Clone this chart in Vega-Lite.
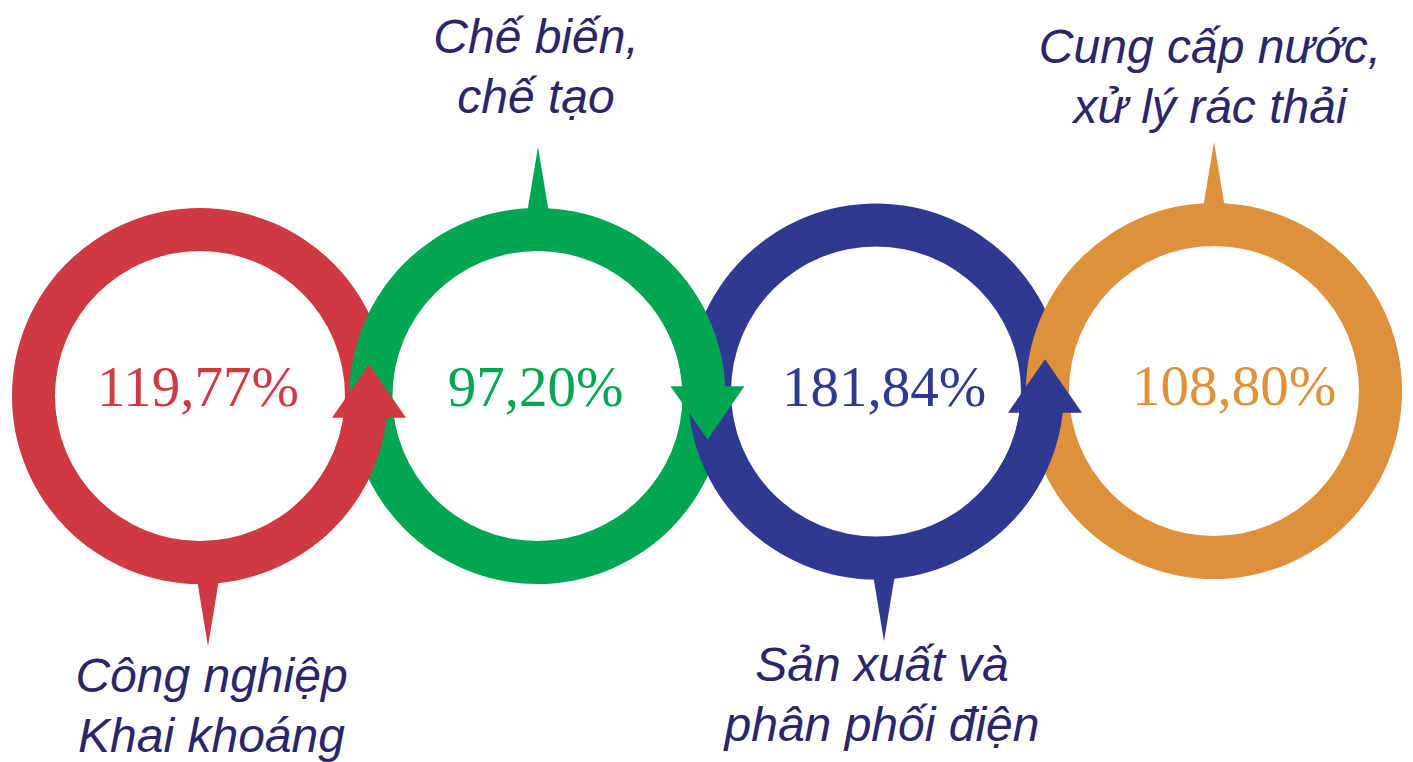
{
  "$schema": "https://vega.github.io/schema/vega-lite/v6.json",
  "width": 1413,
  "height": 762,
  "autosize": {"type": "fit", "contains": "padding"},
  "padding": 0,
  "background": "white",
  "config": {"view": {"stroke": null}},
  "datasets": {
    "rings": [
      {"sector": "Công nghiệp Khai khoáng", "cx": 200, "cy": 396.5, "start": 0, "end": 360, "z": 1},
      {"sector": "Chế biến, chế tạo", "cx": 537.5, "cy": 396.5, "start": 0, "end": 360, "z": 2},
      {"sector": "Công nghiệp Khai khoáng", "cx": 200, "cy": 396.5, "start": 95, "end": 140, "z": 3},
      {"sector": "Sản xuất và phân phối điện", "cx": 876, "cy": 392, "start": 0, "end": 360, "z": 4},
      {"sector": "Chế biến, chế tạo", "cx": 537.5, "cy": 396.5, "start": 40, "end": 88, "z": 5},
      {"sector": "Cung cấp nước, xử lý rác thải", "cx": 1214, "cy": 391.5, "start": 0, "end": 360, "z": 6},
      {"sector": "Sản xuất và phân phối điện", "cx": 876, "cy": 392, "start": 95, "end": 140, "z": 7}
    ],
    "arrows": [
      {"sector": "Công nghiệp Khai khoáng", "cx": 369, "cy": 391.5},
      {"sector": "Chế biến, chế tạo", "cx": 707.5, "cy": 413.5},
      {"sector": "Sản xuất và phân phối điện", "cx": 1045, "cy": 386.5}
    ],
    "callouts": [
      {"sector": "Công nghiệp Khai khoáng", "cx": 208, "cy": 610},
      {"sector": "Chế biến, chế tạo", "cx": 538, "cy": 184},
      {"sector": "Sản xuất và phân phối điện", "cx": 884, "cy": 605},
      {"sector": "Cung cấp nước, xử lý rác thải", "cx": 1214, "cy": 179}
    ],
    "values": [
      {"sector": "Công nghiệp Khai khoáng", "cx": 198, "cy": 407, "pct": "119,77%"},
      {"sector": "Chế biến, chế tạo", "cx": 535.5, "cy": 407, "pct": "97,20%"},
      {"sector": "Sản xuất và phân phối điện", "cx": 884, "cy": 407, "pct": "181,84%"},
      {"sector": "Cung cấp nước, xử lý rác thải", "cx": 1234, "cy": 406, "pct": "108,80%"}
    ],
    "labels": [
      {"sector": "Công nghiệp Khai khoáng", "cx": 211.5, "cy": 693, "label": "Công nghiệp\nKhai khoáng"},
      {"sector": "Chế biến, chế tạo", "cx": 536, "cy": 53, "label": "Chế biến,\nchế tạo"},
      {"sector": "Sản xuất và phân phối điện", "cx": 882, "cy": 682, "label": "Sản xuất và\nphân phối điện"},
      {"sector": "Cung cấp nước, xử lý rác thải", "cx": 1210, "cy": 63, "label": "Cung cấp nước,\nxử lý rác thải"}
    ]
  },
  "encoding": {
    "x": {"field": "cx", "type": "quantitative", "scale": {"domain": [0, 1413], "nice": false, "zero": false}, "axis": null},
    "y": {"field": "cy", "type": "quantitative", "scale": {"domain": [0, 762], "nice": false, "zero": false, "reverse": true}, "axis": null},
    "color": {
      "field": "sector",
      "type": "nominal",
      "scale": {
        "domain": ["Công nghiệp Khai khoáng", "Chế biến, chế tạo", "Sản xuất và phân phối điện", "Cung cấp nước, xử lý rác thải"],
        "range": ["#cf3a42", "#00a651", "#2f3992", "#de913a"]
      },
      "legend": null
    }
  },
  "layer": [
    {
      "data": {"name": "rings"},
      "mark": {"type": "arc", "radius": 188, "radius2": 145, "stroke": null},
      "encoding": {
        "theta": {"field": "start", "type": "quantitative", "scale": {"domain": [0, 360], "range": [0, 6.283185307179586]}, "stack": null},
        "theta2": {"field": "end"},
        "order": {"field": "z", "type": "quantitative"}
      }
    },
    {
      "data": {"name": "arrows"},
      "transform": [{"filter": {"field": "sector", "oneOf": ["Công nghiệp Khai khoáng", "Sản xuất và phân phối điện"]}}],
      "mark": {"type": "point", "shape": "M0,-0.72L1,0.72L-1,0.72Z", "size": 5476, "filled": true, "opacity": 1, "strokeWidth": 0}
    },
    {
      "data": {"name": "arrows"},
      "transform": [{"filter": {"field": "sector", "equal": "Chế biến, chế tạo"}}],
      "mark": {"type": "point", "shape": "M0,0.72L1,-0.72L-1,-0.72Z", "size": 5476, "filled": true, "opacity": 1, "strokeWidth": 0}
    },
    {
      "data": {"name": "callouts"},
      "transform": [{"filter": {"field": "sector", "oneOf": ["Công nghiệp Khai khoáng", "Sản xuất và phân phối điện"]}}],
      "mark": {"type": "point", "shape": "M-0.33,-1L0.33,-1L0,1Z", "size": 5476, "filled": true, "opacity": 1, "strokeWidth": 0}
    },
    {
      "data": {"name": "callouts"},
      "transform": [{"filter": {"field": "sector", "oneOf": ["Chế biến, chế tạo", "Cung cấp nước, xử lý rác thải"]}}],
      "mark": {"type": "point", "shape": "M-0.33,1L0.33,1L0,-1Z", "size": 5476, "filled": true, "opacity": 1, "strokeWidth": 0}
    },
    {
      "data": {"name": "values"},
      "mark": {"type": "text", "font": "Liberation Serif", "fontSize": 57, "align": "center", "baseline": "alphabetic"},
      "encoding": {"text": {"field": "pct", "type": "nominal"}}
    },
    {
      "data": {"name": "labels"},
      "mark": {"type": "text", "font": "Liberation Sans", "fontStyle": "italic", "fontSize": 48, "lineHeight": 60, "lineBreak": "\n", "align": "center", "baseline": "alphabetic"},
      "encoding": {
        "text": {"field": "label", "type": "nominal"},
        "color": {"value": "#2b2669"}
      }
    }
  ]
}
